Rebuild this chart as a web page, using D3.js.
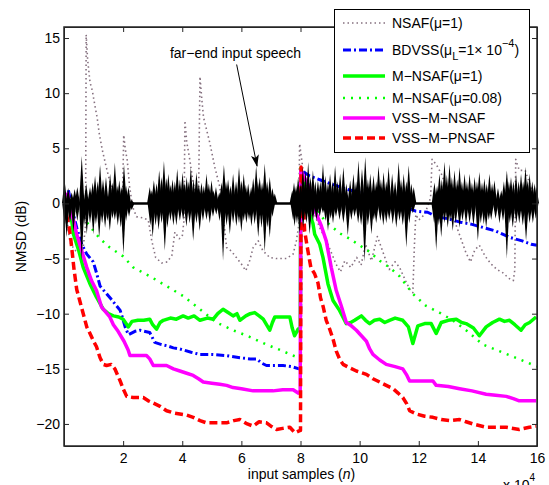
<!DOCTYPE html>
<html>
<head>
<meta charset="utf-8">
<script src="https://cdn.jsdelivr.net/npm/d3@7"></script>
<style>
  body { margin: 0; background: #fff; }
  text { font-family: "Liberation Sans", Arial, sans-serif; }
</style>
</head>
<body>
<svg id="chart"></svg>
<script>
// tick values (x in units of 10^4 samples, y in dB)
const xTicks = [2, 4, 6, 8, 10, 12, 14, 16];
const yTicks = [-20, -15, -10, -5, 0, 5, 10, 15];

// far-end speech, burst peaks [n, amplitude]
const speechUp = [[0.02,2.1],[0.14,1.4],[0.26,1.0],[0.36,1.3],[0.45,1.5],[0.6,4.3],[0.75,1.8],[0.88,1.5],[0.97,1.9],[1.05,2.5],[1.14,2.0],[1.22,3.5],[1.32,2.2],[1.42,2.4],[1.56,2.7],[1.64,1.9],[1.72,3.7],[1.8,1.6],[1.87,2.1],[1.95,1.5],[2.03,3.5],[2.1,1.6],[2.18,1.5],[2.29,0.3],
  [2.9,1.5],[2.97,1.2],[3.04,2.1],[3.13,1.8],[3.22,3.0],[3.3,2.4],[3.38,3.85],[3.46,2.3],[3.53,2.7],[3.6,1.7],[3.67,2.2],[3.75,2.0],[3.83,3.15],[3.92,2.2],[4.01,2.8],[4.08,1.9],[4.15,2.4],[4.22,2.0],[4.29,3.3],[4.38,2.2],[4.48,2.8],[4.56,1.8],[4.65,1.9],[4.73,1.6],[4.82,2.7],[4.9,1.8],[4.99,2.1],[5.06,1.2],[5.14,1.5],[5.25,1.0],[5.33,1.9],[5.41,3.5],[5.48,2.0],[5.55,2.2],[5.63,1.6],[5.72,2.7],[5.82,2.0],[5.92,3.3],[6.0,2.1],[6.08,2.7],[6.15,1.7],[6.23,1.8],[6.33,1.5],[6.4,2.3],[6.5,3.45],[6.56,2.0],[6.62,2.4],[6.7,1.9],[6.79,3.6],[6.87,2.0],[6.96,2.4],[7.05,1.4],[7.13,0.9],
  [7.72,1.2],[7.78,1.9],[7.85,1.6],[7.92,2.4],[8.0,1.8],[8.08,3.3],[8.17,3.0],[8.26,3.75],[8.34,2.4],[8.42,3.0],[8.5,2.0],[8.59,2.1],[8.67,2.0],[8.76,3.6],[8.84,2.5],[8.93,1.9],[9.0,2.7],[9.08,2.0],[9.17,3.45],[9.25,2.0],[9.34,2.7],[9.45,3.3],[9.55,1.8],[9.68,2.1],[9.79,2.7],[9.88,2.0],[9.96,3.9],[10.08,3.15],[10.19,4.2],[10.28,2.2],[10.36,2.7],[10.47,2.55],[10.56,2.0],[10.64,3.45],[10.72,2.2],[10.81,2.85],[10.9,2.0],[10.98,3.3],[11.1,2.7],[11.2,2.0],[11.32,3.75],[11.4,2.2],[11.49,2.7],[11.58,2.0],[11.66,3.45],[11.75,1.8],[11.83,1.5],
  [12.53,1.9],[12.62,1.6],[12.7,2.7],[12.78,2.2],[12.87,3.75],[12.95,2.6],[13.04,3.6],[13.12,2.4],[13.21,3.0],[13.3,2.2],[13.38,3.3],[13.46,2.0],[13.55,2.7],[13.63,2.0],[13.72,2.7],[13.8,1.9],[13.89,2.4],[13.97,2.0],[14.05,2.85],[14.14,1.9],[14.22,2.25],[14.3,1.8],[14.39,2.7],[14.48,1.8],[14.56,2.1],[14.68,1.4],[14.79,1.2],[14.88,2.0],[14.98,3.0],[15.05,2.0],[15.12,2.4],[15.2,2.0],[15.29,2.7],[15.38,2.0],[15.46,2.7],[15.53,2.0],[15.61,3.3],[15.68,2.1],[15.75,2.7],[15.84,2.0],[15.92,1.8],[15.98,1.5]];
const speechDown = [[0.03,-2.0],[0.09,-3.1],[0.2,-1.8],[0.32,-2.6],[0.45,-1.6],[0.6,-5.2],[0.68,-2.0],[0.77,-2.8],[0.88,-1.8],[0.99,-2.8],[1.08,-1.9],[1.19,-3.1],[1.29,-1.8],[1.39,-2.2],[1.47,-1.6],[1.55,-2.5],[1.64,-1.4],[1.72,-1.5],[1.82,-2.0],[1.92,-2.2],[2.01,-4.6],[2.1,-1.6],[2.2,-1.2],[2.29,-0.6],
  [2.92,-2.0],[3.0,-3.1],[3.1,-2.0],[3.2,-2.4],[3.3,-1.8],[3.41,-4.3],[3.5,-2.2],[3.6,-1.6],[3.7,-2.0],[3.8,-2.0],[3.92,-1.6],[4.03,-1.5],[4.14,-2.1],[4.25,-1.8],[4.37,-3.4],[4.48,-1.8],[4.59,-2.5],[4.7,-1.6],[4.82,-1.5],[4.93,-1.8],[5.04,-1.2],[5.15,-1.0],[5.26,-1.6],[5.38,-5.2],[5.5,-2.0],[5.61,-2.8],[5.72,-1.8],[5.83,-2.1],[5.92,-1.8],[6.0,-2.6],[6.08,-1.6],[6.17,-1.8],[6.26,-1.5],[6.34,-2.1],[6.45,-1.9],[6.57,-3.1],[6.68,-2.2],[6.79,-4.4],[6.88,-2.2],[6.96,-3.1],[7.05,-1.2],
  [7.75,-1.5],[7.8,-2.1],[7.88,-1.8],[7.97,-2.8],[8.09,-2.2],[8.2,-1.8],[8.31,-2.8],[8.42,-1.6],[8.54,-1.5],[8.65,-1.2],[8.76,-0.9],[8.85,-1.6],[8.93,-2.5],[9.02,-1.4],[9.1,-1.8],[9.2,-1.2],[9.32,-1.5],[9.45,-1.8],[9.6,-2.9],[9.72,-1.5],[9.83,-1.2],[9.95,-1.8],[10.05,-2.0],[10.17,-5.3],[10.28,-2.0],[10.4,-2.8],[10.48,-1.5],[10.56,-1.8],[10.7,-1.6],[10.8,-2.0],[10.9,-1.8],[11.0,-1.5],[11.12,-1.9],[11.24,-2.2],[11.35,-1.6],[11.46,-2.0],[11.58,-4.0],[11.68,-1.8],[11.8,-0.9],
  [12.52,-1.8],[12.59,-4.3],[12.68,-2.0],[12.76,-3.1],[12.87,-1.8],[12.98,-2.2],[13.06,-1.6],[13.15,-2.5],[13.25,-1.8],[13.38,-2.2],[13.48,-1.6],[13.6,-1.9],[13.72,-1.8],[13.85,-2.0],[14.0,-3.4],[14.1,-1.8],[14.2,-1.9],[14.28,-2.2],[14.37,-1.5],[14.45,-1.5],[14.6,-1.4],[14.73,-1.8],[14.85,-1.6],[14.98,-5.0],[15.08,-1.8],[15.18,-2.2],[15.3,-1.8],[15.4,-1.8],[15.52,-2.0],[15.63,-3.4],[15.75,-1.8],[15.86,-1.8],[15.96,-1.4]];

// NMSD curves [n (x10^4), dB]
const nsaf = [[0.02,0.5],[0.1,-1.5],[0.2,-3.5],[0.35,-4.2],[0.5,-4.5],[0.65,-4],[0.73,-2],[0.75,15.3],[0.8,13],[0.88,11],[0.96,10.2],[1.05,8.8],[1.12,7.8],[1.2,6.2],[1.3,4.8],[1.42,3.4],[1.55,2],[1.7,0.6],[1.85,-0.5],[1.97,-1],[2.02,6.2],[2.08,4.8],[2.14,3.9],[2.22,1.5],[2.32,-0.3],[2.45,-1.2],[2.65,-1.3],[2.85,-1.5],[2.97,-3.4],[3.1,-4.9],[3.3,-5.4],[3.5,-5.3],[3.65,-4.7],[3.75,-2.6],[3.9,-3.2],[4.0,-3.0],[4.06,-1.5],[4.09,7.5],[4.15,5.6],[4.26,3.9],[4.35,2.2],[4.45,0.8],[4.55,0.2],[4.6,11.5],[4.66,9.5],[4.72,7.8],[4.83,6.6],[4.94,5.4],[5.1,3.3],[5.27,1.5],[5.4,-1.5],[5.5,-4.0],[5.65,-4.3],[5.83,-4.9],[6.0,-5.5],[6.15,-6.1],[6.28,-5.2],[6.4,-4.0],[6.57,-3.4],[6.73,-4.3],[6.96,-4.9],[7.18,-5.0],[7.52,-5.0],[7.75,-4.6],[7.86,-3.4],[7.94,-2.0],[7.97,5.4],[8.03,4.2],[8.1,2.7],[8.25,1.0],[8.45,-0.8],[8.65,-2.2],[8.88,-3.4],[9.05,-4.5],[9.2,-5.5],[9.35,-6.2],[9.5,-5.2],[9.7,-5.8],[9.9,-4.9],[10.05,-5.6],[10.2,-3.7],[10.4,-5.2],[10.6,-3.0],[10.8,-4.5],[11.0,-6.0],[11.2,-5.3],[11.35,-5.8],[11.55,-7.0],[11.7,-7.8],[11.8,-8.1],[11.85,-4.0],[11.9,-1.0],[12.0,-1.5],[12.2,-1.0],[12.4,0.5],[12.45,4.0],[12.6,3.5],[12.8,2.5],[13.0,0.5],[13.2,-1.5],[13.4,-3.0],[13.6,-4.5],[13.75,-5.3],[13.9,-4.2],[14.05,-3.8],[14.25,-4.8],[14.45,-5.5],[14.65,-6.0],[14.85,-6.3],[15.05,-6.8],[15.2,-7.0],[15.25,-6.0],[15.28,4.0],[15.4,3.0],[15.6,3.0],[15.75,1.8],[15.9,0.5],[16.0,-0.5]];
const bdvss = [[0.15,1.2],[0.2,0.5],[0.3,-0.8],[0.43,-2.2],[0.6,-3.7],[0.77,-4.6],[0.99,-5.3],[1.1,-6.3],[1.22,-7.5],[1.44,-8.2],[1.6,-8.7],[1.72,-9.1],[1.9,-9.7],[1.98,-10.4],[2.08,-11.3],[2.18,-11.9],[2.4,-11.6],[2.57,-11.5],[2.9,-11.7],[3.07,-12.6],[3.3,-12.8],[3.47,-12.9],[3.7,-13.1],[3.92,-13.2],[4.3,-13.5],[4.6,-13.7],[5.0,-13.7],[5.5,-13.8],[5.95,-14.0],[6.3,-14.1],[6.51,-14.1],[6.7,-14.5],[6.85,-14.7],[7.41,-14.7],[7.7,-14.8],[7.95,-15.0],[8.0,-15.0],[8.02,3.0],[8.3,2.5],[8.7,2.1],[9.0,1.8],[9.55,1.3],[10.1,0.9],[10.8,0.3],[11.5,-0.3],[11.9,-0.7],[12.3,-0.8],[12.6,-1.2],[13.0,-1.4],[13.4,-1.7],[13.8,-1.9],[14.2,-2.2],[14.6,-2.5],[15.1,-3.1],[15.5,-3.4],[15.8,-3.7],[16,-3.8]];
const mnsaf1 = [[0.15,0.5],[0.26,-1.5],[0.32,-2.8],[0.5,-4.3],[0.65,-5.8],[0.88,-7.3],[1.1,-8.5],[1.33,-9.6],[1.5,-10.0],[1.67,-10.2],[1.85,-10.3],[2.0,-10.5],[2.18,-11.2],[2.3,-10.7],[2.5,-10.6],[2.7,-10.6],[2.9,-10.5],[3.0,-11.0],[3.13,-11.4],[3.25,-10.8],[3.36,-10.6],[3.6,-10.4],[3.8,-10.5],[4.03,-10.2],[4.2,-10.4],[4.4,-10.2],[4.6,-10.6],[4.85,-10.4],[5.05,-10.5],[5.2,-10.0],[5.38,-9.6],[5.55,-9.9],[5.72,-10.2],[5.85,-10.0],[5.95,-10.6],[6.15,-10.2],[6.3,-10.0],[6.45,-9.9],[6.6,-10.2],[6.74,-10.5],[6.85,-11.0],[6.96,-11.5],[7.05,-10.8],[7.13,-10.3],[7.4,-10.3],[7.64,-10.3],[7.72,-11.3],[7.8,-12.0],[7.92,-11.4],[7.99,-11.6],[8.01,3.2],[8.1,1.5],[8.25,-0.5],[8.42,-1.8],[8.48,-2.8],[8.65,-3.7],[8.76,-4.9],[8.93,-7.3],[9.1,-8.8],[9.32,-9.7],[9.55,-10.9],[9.7,-10.8],[9.83,-10.6],[10.06,-10.2],[10.2,-10.6],[10.34,-10.9],[10.5,-10.6],[10.68,-10.5],[10.85,-10.8],[11.01,-10.6],[11.2,-10.4],[11.46,-10.6],[11.65,-11.2],[11.8,-12.7],[11.97,-11.1],[12.2,-10.9],[12.42,-10.9],[12.59,-11.8],[12.76,-10.8],[13.0,-10.6],[13.27,-10.5],[13.45,-10.8],[13.6,-10.9],[13.85,-11.3],[14.05,-12.0],[14.28,-11.2],[14.5,-10.8],[14.73,-10.5],[14.9,-10.7],[15.07,-10.6],[15.25,-11.0],[15.46,-11.5],[15.6,-11.0],[15.75,-10.8],[15.97,-10.3]];
const mnsaf008 = [[0.1,0.5],[0.3,-0.3],[0.5,-0.9],[0.8,-1.8],[1.0,-2.5],[1.22,-3.2],[1.55,-4.0],[2.0,-4.8],[2.34,-5.8],[2.9,-6.6],[3.47,-7.5],[4.03,-8.4],[4.6,-9.6],[5.16,-10.8],[5.72,-11.5],[6.28,-12.1],[6.85,-12.8],[7.41,-13.4],[7.92,-14.0],[8.0,-14.0],[8.02,3.0],[8.3,0.5],[8.8,-1.5],[9.32,-2.7],[9.66,-3.2],[10.0,-3.8],[10.34,-4.4],[10.68,-5.2],[11.01,-5.8],[11.35,-6.6],[11.8,-8.2],[12.25,-9.3],[12.7,-9.9],[13.15,-10.6],[13.6,-11.5],[14.17,-12.8],[14.73,-13.4],[15.29,-14.0],[15.91,-14.7],[16,-14.8]];
const vssMnsaf = [[0.12,1.0],[0.2,-0.6],[0.32,-1.5],[0.43,-2.8],[0.6,-4.3],[0.77,-5.8],[0.93,-7.0],[1.1,-7.9],[1.27,-9.4],[1.55,-10.3],[1.67,-11.0],[1.83,-11.6],[2.03,-12.5],[2.17,-13.3],[2.23,-13.8],[2.5,-13.8],[2.79,-13.8],[2.9,-14.1],[3.02,-14.7],[3.47,-14.7],[3.7,-15.0],[3.92,-15.2],[4.15,-15.4],[4.37,-15.6],[4.55,-15.9],[4.71,-16.2],[5.0,-16.3],[5.27,-16.4],[5.5,-16.5],[5.72,-16.7],[6.0,-16.8],[6.4,-17.0],[6.75,-17.0],[7.07,-17.0],[7.4,-16.9],[7.75,-16.9],[7.92,-17.2],[7.99,-17.0],[8.01,3.0],[8.1,2.5],[8.3,1.5],[8.48,-0.6],[8.7,-2.0],[8.87,-3.4],[9.04,-5.8],[9.21,-7.9],[9.38,-9.3],[9.55,-10.8],[9.72,-11.1],[9.89,-11.5],[10.06,-12.0],[10.23,-12.5],[10.34,-13.2],[10.45,-13.7],[10.68,-14.2],[10.9,-14.6],[11.2,-14.8],[11.46,-15.0],[11.6,-15.6],[11.69,-16.1],[12.1,-16.1],[12.48,-16.1],[12.59,-16.5],[13.0,-16.6],[13.38,-16.8],[13.8,-17.0],[14.28,-17.3],[14.6,-17.4],[14.96,-17.5],[15.2,-17.7],[15.4,-17.9],[15.7,-17.9],[15.97,-17.9]];
const vssMpnsaf = [[0.08,-1.0],[0.15,-1.8],[0.22,-3.0],[0.28,-4.5],[0.34,-6.0],[0.43,-7.8],[0.54,-8.9],[0.66,-10.1],[0.77,-11.2],[0.88,-11.8],[1.0,-12.5],[1.1,-13.0],[1.22,-14.0],[1.33,-14.6],[1.44,-14.7],[1.6,-14.6],[1.72,-15.0],[1.9,-16.1],[2.0,-16.8],[2.12,-17.5],[2.34,-17.6],[2.68,-17.6],[2.85,-17.9],[3.02,-18.1],[3.25,-18.4],[3.47,-18.8],[3.7,-19.0],[3.92,-19.1],[4.15,-19.2],[4.37,-19.4],[4.6,-19.7],[4.82,-19.9],[5.1,-19.9],[5.5,-19.9],[5.75,-19.7],[5.95,-19.6],[6.2,-20.0],[6.4,-20.2],[6.6,-19.8],[6.85,-19.9],[7.0,-20.2],[7.19,-20.5],[7.4,-20.4],[7.64,-20.3],[7.81,-20.8],[7.97,-20.6],[8.0,-20.6],[8.02,3.3],[8.08,1.0],[8.14,-2.5],[8.25,-4.3],[8.35,-5.8],[8.48,-6.4],[8.59,-7.2],[8.68,-8.6],[8.76,-9.3],[8.87,-10.6],[9.0,-11.5],[9.1,-12.3],[9.21,-13.4],[9.32,-14.1],[9.44,-14.6],[9.65,-14.9],[9.89,-15.2],[10.23,-15.5],[10.45,-15.9],[10.68,-16.2],[10.9,-16.5],[11.13,-16.8],[11.3,-17.2],[11.46,-17.6],[11.6,-18.2],[11.69,-18.8],[11.92,-19.1],[12.2,-19.3],[12.48,-19.4],[12.76,-19.6],[13.04,-19.7],[13.38,-19.6],[13.6,-19.8],[13.83,-20.0],[14.28,-20.3],[14.6,-20.3],[14.96,-20.3],[15.4,-20.5],[15.74,-20.3],[15.97,-20.2]];

const svgWidth = 549, svgHeight = 485;
const margin = { top: 27, right: 12, bottom: 39, left: 64 };

const svg = d3.select("#chart")
  .attr("width", svgWidth)
  .attr("height", svgHeight);

const x = d3.scaleLinear().domain([0, 16]).range([margin.left, svgWidth - margin.right]);
const y = d3.scaleLinear().domain([-22, 16]).range([svgHeight - margin.bottom, margin.top]);

const line = d3.line().x(d => x(d[0])).y(d => y(d[1]));

// series styles
const series = [
  { data: nsaf, color: "#85707f", width: 1.6, dash: "1.5,3" },
  { data: bdvss, color: "#0000ff", width: 3, dash: "8,3,2,3" },
  { data: mnsaf1, color: "#00ff00", width: 3.5, dash: null },
  { data: mnsaf008, color: "#00ff00", width: 2.5, dash: "2,6" },
  { data: vssMnsaf, color: "#ff00ff", width: 3.5, dash: null },
  { data: vssMpnsaf, color: "#ff0000", width: 3.5, dash: "8,4" }
];

series.forEach(s => {
  svg.append("path")
    .datum(s.data)
    .attr("d", line)
    .attr("fill", "none")
    .attr("stroke", s.color)
    .attr("stroke-width", s.width)
    .attr("stroke-dasharray", s.dash)
    .attr("stroke-linejoin", "round");
});

// speech on top: thin spikes from the zero line
const spikeW = 0.09;
const spike = d => "M" + x(d[0] - spikeW) + "," + y(0) + "L" + x(d[0]) + "," + y(d[1]) + "L" + x(d[0] + spikeW) + "," + y(0) + "Z";
svg.append("line")
  .attr("x1", x(0)).attr("x2", x(16))
  .attr("y1", y(0)).attr("y2", y(0))
  .attr("stroke", "#000").attr("stroke-width", 2.5);
svg.append("g").selectAll("path")
  .data(speechUp.concat(speechDown))
  .enter().append("path")
  .attr("d", spike)
  .attr("fill", "#000");

// axes, ticks pointing inward on all four sides
const axisColor = "#262626";
const fmt = d3.format("d");
svg.append("g")
  .attr("transform", "translate(0," + y(-22) + ")")
  .call(d3.axisBottom(x).tickValues(xTicks).tickSize(-5).tickSizeOuter(0).tickPadding(7).tickFormat(fmt));
svg.append("g")
  .attr("transform", "translate(" + x(0) + ",0)")
  .call(d3.axisLeft(y).tickValues(yTicks).tickSize(-5).tickSizeOuter(0).tickPadding(4));
svg.append("g")
  .attr("transform", "translate(0," + y(16) + ")")
  .call(d3.axisTop(x).tickValues(xTicks).tickSize(-5).tickSizeOuter(0).tickFormat(""));
svg.append("g")
  .attr("transform", "translate(" + x(16) + ",0)")
  .call(d3.axisRight(y).tickValues(yTicks).tickSize(-5).tickSizeOuter(0).tickFormat(""));
svg.selectAll(".domain, .tick line").attr("stroke", axisColor);
svg.selectAll(".tick text").attr("font-size", 14).attr("fill", "#000")
  .attr("font-family", "Liberation Sans, Arial, sans-serif");
svg.append("rect")
  .attr("x", x(0)).attr("y", y(16))
  .attr("width", x(16) - x(0)).attr("height", y(-22) - y(16))
  .attr("fill", "none").attr("stroke", axisColor).attr("stroke-width", 1.5);

// axis titles
const xTitle = svg.append("text")
  .attr("x", (x(0) + x(16)) / 2 + 1).attr("y", 479)
  .attr("text-anchor", "middle").attr("font-size", 14);
xTitle.append("tspan").text("input samples (");
xTitle.append("tspan").attr("font-style", "italic").text("n");
xTitle.append("tspan").text(")");

svg.append("text")
  .attr("transform", "translate(26," + (y(-22) + y(16)) / 2 + ") rotate(-90)")
  .attr("text-anchor", "middle").attr("font-size", 14)
  .text("NMSD (dB)");

const exp = svg.append("text")
  .attr("x", 503).attr("y", 490).attr("font-size", 14);
exp.append("tspan").text("x 10");
exp.append("tspan").attr("dy", -9).attr("font-size", 10).text("4");

// annotation with arrow
svg.append("defs").append("marker")
  .attr("id", "head")
  .attr("viewBox", "0 0 12 8")
  .attr("refX", 11).attr("refY", 4)
  .attr("markerWidth", 12).attr("markerHeight", 8)
  .attr("markerUnits", "userSpaceOnUse")
  .attr("orient", "auto")
  .append("path")
  .attr("d", "M0,0 L12,4 L0,8 L3,4 Z")
  .attr("fill", "#000");
svg.append("text")
  .attr("x", x(5.8)).attr("y", y(13.2))
  .attr("text-anchor", "middle").attr("font-size", 14)
  .text("far\u2212end input speech");
svg.append("line")
  .attr("x1", x(5.84)).attr("y1", y(12.6))
  .attr("x2", x(6.53)).attr("y2", y(3.4))
  .attr("stroke", "#000").attr("stroke-width", 1)
  .attr("marker-end", "url(#head)");

// legend
const legend = svg.append("g");
legend.append("rect")
  .attr("x", 334.5).attr("y", 9.5).attr("width", 195).attr("height", 143)
  .attr("fill", "#fff").attr("stroke", "#000").attr("stroke-width", 1);
const rowY = [23, 50, 76, 98, 118, 138];
series.forEach((s, i) => {
  legend.append("line")
    .attr("x1", 343).attr("x2", 385)
    .attr("y1", rowY[i]).attr("y2", rowY[i])
    .attr("stroke", s.color).attr("stroke-width", s.width)
    .attr("stroke-dasharray", s.dash);
});
const lt = (i) => legend.append("text").attr("x", 392).attr("y", rowY[i] + 5).attr("font-size", 14);
lt(0).text("NSAF(\u03bc=1)");
const t1 = lt(1);
t1.append("tspan").text("BDVSS(\u03bc");
t1.append("tspan").attr("dy", 5).attr("font-size", 11).text("L");
t1.append("tspan").attr("dy", -5).text("=1\u00d7 10");
t1.append("tspan").attr("dy", -8).attr("font-size", 11).text("\u22124");
t1.append("tspan").attr("dy", 8).text(")");
lt(2).text("M\u2212NSAF(\u03bc=1)");
lt(3).text("M\u2212NSAF(\u03bc=0.08)");
lt(4).text("VSS\u2212M\u2212NSAF");
lt(5).text("VSS\u2212M\u2212PNSAF");
</script>
</body>
</html>
